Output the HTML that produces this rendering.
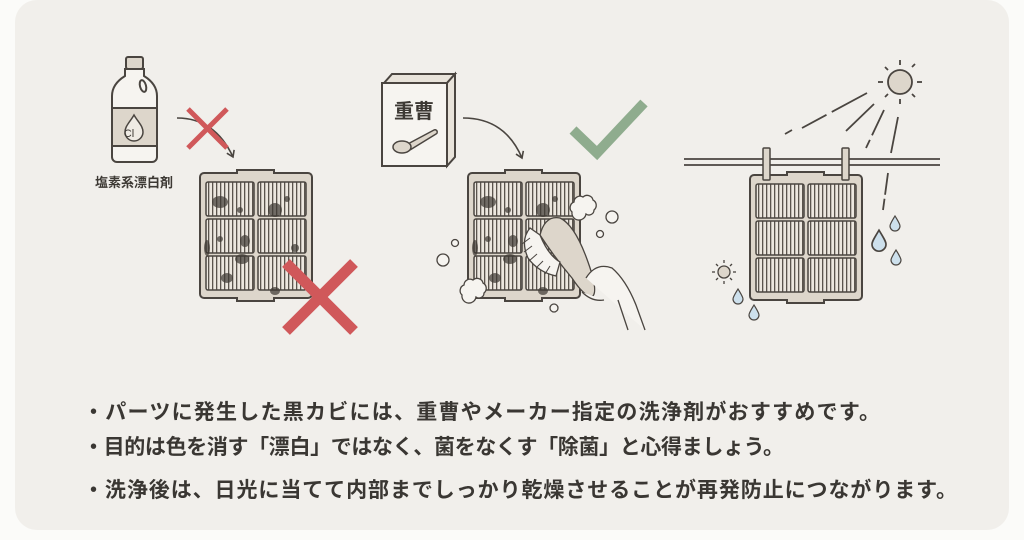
<!DOCTYPE html>
<html><head><meta charset="utf-8">
<style>
html,body{margin:0;padding:0;background:#fbfbf9;}
svg{display:block;}
text{font-family:"Liberation Sans","Noto Sans CJK JP",sans-serif;}
</style></head>
<body>
<svg width="1024" height="540" viewBox="0 0 1024 540" xmlns="http://www.w3.org/2000/svg">
<defs>
  <pattern id="str" width="4" height="10" patternUnits="userSpaceOnUse">
    <rect width="4" height="10" fill="#ece7df"/>
    <rect x="0" width="1.3" height="10" fill="#5a544d"/>
  </pattern>
  <g id="filt">
    <path d="M4,0 H37 V-3 H74 V0 H108 a4,4 0 0 1 4,4 V121 a4,4 0 0 1 -4,4 H74 V128 H37 V125 H4 a4,4 0 0 1 -4,-4 V4 a4,4 0 0 1 4,-4Z" fill="#ddd6cb" stroke="#4a4540" stroke-width="2"/>
    <g fill="url(#str)" stroke="#4a4540" stroke-width="1.5">
      <rect x="6" y="9" width="48" height="34" rx="2"/>
      <rect x="58" y="9" width="48" height="34" rx="2"/>
      <rect x="6" y="46" width="48" height="34" rx="2"/>
      <rect x="58" y="46" width="48" height="34" rx="2"/>
      <rect x="6" y="83" width="48" height="34" rx="2"/>
      <rect x="58" y="83" width="48" height="34" rx="2"/>
    </g>
  </g>
  <g id="mold" fill="#3d3832" opacity="0.7">
    <ellipse cx="15" cy="19" rx="8" ry="6"/><ellipse cx="70" cy="27" rx="7" ry="7"/>
    <circle cx="35" cy="27" r="3"/><ellipse cx="40" cy="58" rx="5" ry="6"/>
    <circle cx="15" cy="56" r="3"/><ellipse cx="37" cy="76" rx="7" ry="5"/>
    <ellipse cx="90" cy="65" rx="4" ry="4"/><ellipse cx="22" cy="95" rx="6" ry="5"/>
    <ellipse cx="70" cy="108" rx="5" ry="4"/><circle cx="82" cy="16" r="3"/>
    <ellipse cx="2" cy="65" rx="3" ry="8"/>
  </g>
  <marker id="ah" markerWidth="10" markerHeight="10" refX="7" refY="5" orient="auto" markerUnits="userSpaceOnUse">
    <path d="M1,1 L7,5 L1,9" fill="none" stroke="#4a4540" stroke-width="1.6"/>
  </marker>
  <path id="drop" d="M0,-7 C3,-2 5,1 5,3 a5,5 0 0 1 -10,0 C-5,1 -3,-2 0,-7Z" fill="#cde0ec" stroke="#4a4540" stroke-width="1.2"/>
</defs>

<rect x="15" y="0" width="994" height="530" rx="22" fill="#f1efeb"/>

<!-- Panel 1 -->
<g stroke="#4a4540" stroke-width="2" fill="#f6f4f0">
  <rect x="126" y="57" width="17" height="12" rx="2" fill="#ddd6cb"/>
  <path d="M125,69 H144 V76 Q157,84 157,96 V157 a5,5 0 0 1 -5,5 H117 a5,5 0 0 1 -5,-5 V96 Q112,84 125,76Z"/>
  <rect x="112" y="108" width="45" height="38" fill="#ddd6cb"/>
  <ellipse cx="143" cy="86" rx="3" ry="6" fill="none" transform="rotate(-15 143 86)"/>
  <path d="M134,115 C138,122 143,126 143,132 a9,9 0 0 1 -18,0 C125,126 130,122 134,115Z" fill="#efebe4" stroke-width="1.5"/>
</g>
<text x="129" y="137" font-size="11" fill="#3d3934" text-anchor="middle">Cl</text>
<text x="134" y="187" font-size="13" font-weight="bold" fill="#3d3934" text-anchor="middle">塩素系漂白剤</text>
<path d="M177,118 Q215,118 233,157" fill="none" stroke="#4a4540" stroke-width="1.6" marker-end="url(#ah)"/>
<g stroke="#d0585a" stroke-width="5"><line x1="188" y1="109" x2="227" y2="148"/><line x1="227" y1="109" x2="188" y2="148"/></g>
<use href="#filt" x="200" y="173"/>
<use href="#mold" x="205" y="183"/>
<g stroke="#d0585a" stroke-width="11"><line x1="286" y1="263" x2="354" y2="331"/><line x1="354" y1="263" x2="286" y2="331"/></g>

<!-- Panel 2 -->
<g stroke="#4a4540" stroke-width="2" fill="#f6f4f0">
  <path d="M384,83 L392,74 H455 L447,83Z" fill="#e8e3da"/>
  <path d="M447,83 L455,74 V157 L447,166Z" fill="#e8e3da"/>
  <rect x="382" y="83" width="65" height="83"/>
</g>
<text x="414" y="118" font-size="20" font-weight="bold" fill="#3d3934" text-anchor="middle">重曹</text>
<g stroke="#4a4540" stroke-width="1.5" fill="#ddd6cb">
  <path d="M404,146 L434,130 a2,2 0 0 1 2,4 L410,150"/>
  <ellipse cx="402" cy="147" rx="9" ry="6"/>
</g>
<path d="M463,118 Q505,118 522,158" fill="none" stroke="#4a4540" stroke-width="1.6" marker-end="url(#ah)"/>
<path d="M573,130 L597,153 L644,103" fill="none" stroke="#8fac8e" stroke-width="10"/>
<use href="#filt" x="468" y="173"/>
<use href="#mold" x="473" y="183"/>
<g fill="#f6f4f0" stroke="#4a4540" stroke-width="1.3">
  <path d="M572,212 a6,6 0 0 1 2,-10 a6,6 0 0 1 9,-5 a6,6 0 0 1 10,3 a6,6 0 0 1 1,10 a5,5 0 0 1 -8,4 a6,6 0 0 1 -14,-2Z"/>
  <path d="M462,295 a6,6 0 0 1 2,-10 a6,6 0 0 1 9,-5 a6,6 0 0 1 10,3 a6,6 0 0 1 1,10 a5,5 0 0 1 -8,4 a6,6 0 0 1 -14,-2Z"/>
  <circle cx="612" cy="217" r="6"/><circle cx="600" cy="234" r="3.5"/>
  <circle cx="455" cy="243" r="3.5"/><circle cx="443" cy="260" r="6"/>
  <circle cx="554" cy="308" r="4"/>
  <!-- brush handle -->
  <path d="M540,235 Q545,215 560,218 Q575,225 588,262 Q598,290 593,296 Q585,298 572,278 Q555,258 540,235Z" fill="#ddd6cb"/>
  <!-- brush head -->
  <path d="M530,228 Q520,240 528,258 Q538,272 556,276 L560,262 Q548,255 540,235Z" fill="#f6f4f0"/>
  <!-- hand -->
  <path d="M586,278 Q596,262 612,268 Q626,280 636,305 L645,330 M582,292 Q592,302 604,300 M618,300 L628,330"/>
</g>
<g stroke="#4a4540" stroke-width="1"><line x1="530" y1="238" x2="522" y2="244"/><line x1="532" y1="246" x2="524" y2="252"/><line x1="537" y1="254" x2="529" y2="261"/><line x1="543" y1="261" x2="536" y2="268"/><line x1="550" y1="266" x2="545" y2="274"/></g>

<!-- Panel 3 -->
<g stroke="#4a4540" stroke-width="1.8">
  <line x1="684" y1="159" x2="940" y2="159"/><line x1="684" y1="165" x2="940" y2="165"/>
</g>
<use href="#filt" x="750" y="175"/>
<g fill="#ddd6cb" stroke="#4a4540" stroke-width="1.5">
  <rect x="763" y="148" width="7" height="32" rx="1"/>
  <rect x="842" y="148" width="7" height="32" rx="1"/>
</g>
<circle cx="900" cy="82" r="12" fill="#ddd6cb" stroke="#4a4540" stroke-width="1.8"/>
<g stroke="#4a4540" stroke-width="1.8">
  <line x1="900" y1="60" x2="900" y2="65"/><line x1="900" y1="99" x2="900" y2="104"/>
  <line x1="878" y1="82" x2="883" y2="82"/><line x1="917" y1="82" x2="922" y2="82"/>
  <line x1="885" y1="67" x2="888" y2="70"/><line x1="912" y1="67" x2="915" y2="64"/>
  <line x1="885" y1="97" x2="888" y2="94"/><line x1="912" y1="94" x2="915" y2="97"/>
  <line x1="867" y1="93" x2="802" y2="128" stroke-dasharray="40,6"/>
  <line x1="874" y1="104" x2="846" y2="131"/>
  <line x1="884" y1="110" x2="866" y2="148" stroke-dasharray="28,5"/>
  <line x1="898" y1="117" x2="891" y2="153"/>
  <line x1="888" y1="173" x2="883" y2="210" stroke-dasharray="22,4"/>
  <line x1="792" y1="130" x2="785" y2="134"/>
</g>
<circle cx="724" cy="272" r="6" fill="#ddd6cb" stroke="#4a4540" stroke-width="1.3"/>
<g stroke="#4a4540" stroke-width="1.3">
  <line x1="724" y1="260" x2="724" y2="263"/><line x1="724" y1="281" x2="724" y2="284"/>
  <line x1="712" y1="272" x2="715" y2="272"/><line x1="733" y1="272" x2="736" y2="272"/>
  <line x1="716" y1="264" x2="718" y2="266"/><line x1="730" y1="278" x2="732" y2="280"/>
  <line x1="716" y1="280" x2="718" y2="278"/><line x1="730" y1="266" x2="732" y2="264"/>
</g>
<use href="#drop" x="895" y="223"/>
<use href="#drop" x="879" y="240" transform="translate(879 240) scale(1.4) translate(-879 -240)"/>
<use href="#drop" x="896" y="257"/>
<use href="#drop" x="738" y="296"/>
<use href="#drop" x="754" y="312"/>

<!-- Text -->
<g font-size="21" font-weight="bold" fill="#3a3733">
  <text x="83" y="419" textLength="797" lengthAdjust="spacing">・パーツに発生した黒カビには、重曹やメーカー指定の洗浄剤がおすすめです。</text>
  <text x="83" y="454" textLength="701" lengthAdjust="spacing">・目的は色を消す「漂白」ではなく、菌をなくす「除菌」と心得ましょう。</text>
  <text x="83" y="497" textLength="874" lengthAdjust="spacing">・洗浄後は、日光に当てて内部までしっかり乾燥させることが再発防止につながります。</text>
</g>
</svg>
</body></html>
